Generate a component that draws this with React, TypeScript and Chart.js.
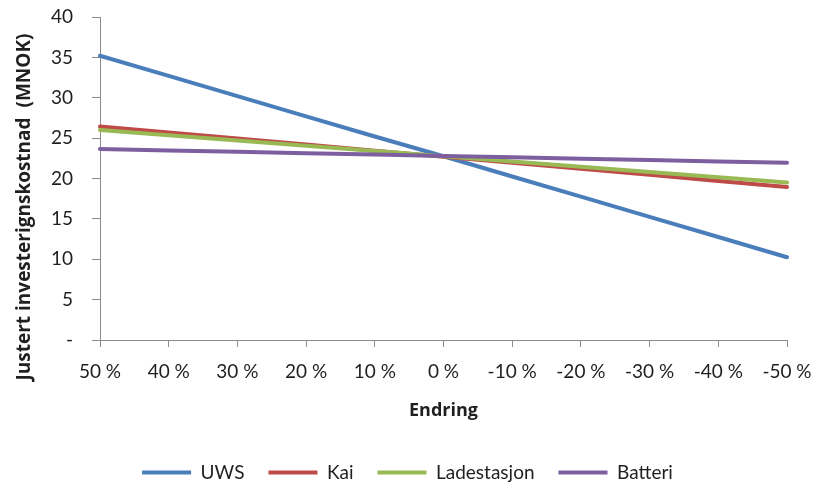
import React, { useEffect, useRef } from "react";
import { Chart, registerables } from "chart.js";

Chart.register(...registerables);

// Change in each cost item, from +50 % down to -50 %
const changeLabels = ["50 %", "40 %", "30 %", "20 %", "10 %", "0 %", "-10 %", "-20 %", "-30 %", "-40 %", "-50 %"];

// Adjusted investment cost (MNOK)
const uwsValues = [35.2, 32.7, 30.2, 27.7, 25.2, 22.75, 20.25, 17.75, 15.25, 12.75, 10.25];
const kaiValues = [26.45, 25.7, 24.95, 24.2, 23.45, 22.7, 21.95, 21.2, 20.45, 19.7, 18.95];
const ladestasjonValues = [26.0, 25.35, 24.7, 24.05, 23.4, 22.75, 22.1, 21.45, 20.8, 20.15, 19.5];
const batteriValues = [23.65, 23.48, 23.31, 23.14, 22.97, 22.8, 22.63, 22.46, 22.29, 22.12, 21.95];

const seriesNames = ["UWS", "Kai", "Ladestasjon", "Batteri"];
const seriesColors = ["#4A7EBB", "#BE4B48", "#98B954", "#7D5FA0"];

const yTitle = "Justert investerignskostnad  (MNOK)";
const xTitle = "Endring";

const FONT = "Lato, 'Open Sans', sans-serif";
const TITLE_FONT = "'Open Sans', Lato, sans-serif";
const TEXT = "#1f1f1f";
const AXIS = "#8c8c8c";

// Rotated y-axis title, placed beside the tick labels
const yTitlePlugin = {
  id: "yTitle",
  afterDraw(chart: any) {
    const ctx = chart.ctx;
    ctx.save();
    ctx.translate(25, 207);
    ctx.rotate(-Math.PI / 2);
    ctx.font = `bold 19px ${TITLE_FONT}`;
    ctx.fillStyle = TEXT;
    ctx.textAlign = "center";
    ctx.textBaseline = "middle";
    ctx.fillText(yTitle, 0, 0);
    ctx.restore();
  },
};

export default function App() {
  const canvasRef = useRef<HTMLCanvasElement | null>(null);

  useEffect(() => {
    if (!canvasRef.current) return;
    const values = [uwsValues, kaiValues, ladestasjonValues, batteriValues];
    const chart = new Chart(canvasRef.current, {
      type: "line",
      data: {
        labels: changeLabels,
        datasets: values.map((data, i) => ({
          label: seriesNames[i],
          data,
          borderColor: seriesColors[i],
          backgroundColor: seriesColors[i],
          borderWidth: 4,
          borderCapStyle: "round" as const,
          pointRadius: 0,
          tension: 0,
          fill: false,
          order: values.length - 1 - i,
        })),
      },
      options: {
        responsive: false,
        animation: false,
        layout: { autoPadding: false, padding: { top: 17, right: 0, bottom: -9, left: 0 } },
        plugins: {
          tooltip: { enabled: false },
          legend: {
            position: "bottom",
            labels: {
              usePointStyle: true,
              pointStyle: "line",
              pointStyleWidth: 49,
              padding: 24,
              color: TEXT,
              font: { family: FONT, size: 19 },
              sort: (a: any, b: any) => a.datasetIndex - b.datasetIndex,
            },
          },
        },
        scales: {
          x: {
            type: "category",
            offset: false,
            border: { display: true, color: AXIS, width: 1 },
            grid: { drawOnChartArea: false, drawTicks: true, tickLength: 7, color: AXIS },
            ticks: {
              autoSkip: false,
              maxRotation: 0,
              padding: 13,
              color: TEXT,
              font: { family: FONT, size: 19 },
            },
            title: {
              display: true,
              text: xTitle,
              color: TEXT,
              font: { family: TITLE_FONT, size: 18, weight: "bold" },
              padding: { top: 0, bottom: 17 },
            },
            afterFit(scale: any) {
              scale.height = 99;
              scale.paddingRight = 28;
            },
          },
          y: {
            min: 0,
            max: 40,
            border: { display: true, color: AXIS, width: 1 },
            grid: { drawOnChartArea: false, drawTicks: true, tickLength: 8, color: AXIS },
            ticks: {
              stepSize: 5,
              padding: 19,
              color: TEXT,
              font: { family: FONT, size: 19 },
              callback: (v: any) => (Number(v) === 0 ? "-" : String(v)),
            },
            afterFit(scale: any) {
              scale.width = 100;
              scale.paddingTop = 0;
              scale.paddingBottom = 0;
            },
          },
        },
      },
      plugins: [yTitlePlugin],
    });
    return () => chart.destroy();
  }, []);

  return (
    <div style={{ position: "absolute", left: 0, top: 0, width: 815, height: 483, background: "#fff" }}>
      <canvas ref={canvasRef} width={815} height={483} style={{ display: "block" }} />
    </div>
  );
}
